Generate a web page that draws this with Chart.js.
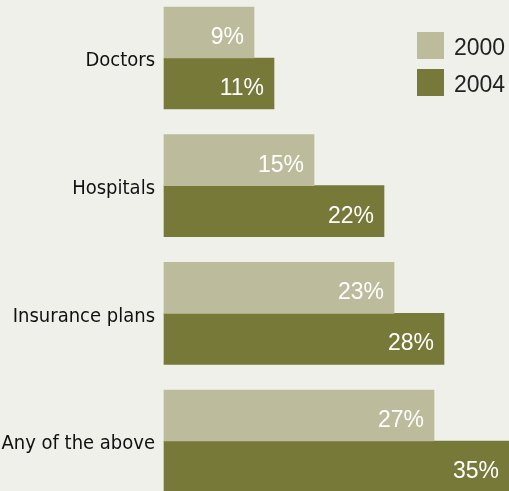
<!DOCTYPE html>
<html>
<head>
<meta charset="utf-8">
<script src="https://cdn.jsdelivr.net/npm/chart.js@4/dist/chart.umd.min.js"></script>
<style>
  html, body { margin: 0; padding: 0; background: #f0f0eb; }
  #wrap { width: 509px; height: 491px; position: relative; }
</style>
</head>
<body>
<div id="wrap"><canvas id="barChart"></canvas></div>
<script>
// data
const categories = ['Doctors', 'Hospitals', 'Insurance plans', 'Any of the above'];
const years = ['2000', '2004'];
const values2000 = [9, 15, 23, 27];
const values2004 = [11, 22, 28, 35];
const colors = ['#bcbc9c', '#777939'];

// white % labels at the end of each bar
const valueLabels = {
  id: 'valueLabels',
  afterDatasetsDraw(chart) {
    const ctx = chart.ctx;
    ctx.save();
    ctx.fillStyle = '#ffffff';
    ctx.font = '23px "Liberation Sans", Arial, sans-serif';
    ctx.textAlign = 'right';
    ctx.textBaseline = 'alphabetic';
    chart.data.datasets.forEach((ds, i) => {
      chart.getDatasetMeta(i).data.forEach((bar, j) => {
        const x = Math.min(bar.x, chart.width) - 10;
        ctx.fillText(ds.data[j] + '%', x, bar.y + 11.5);
      });
    });
    ctx.restore();
  }
};

// legend in the top-right corner
const cornerLegend = {
  id: 'cornerLegend',
  afterDraw(chart) {
    const ctx = chart.ctx;
    ctx.save();
    ctx.font = '23px "Liberation Sans", Arial, sans-serif';
    ctx.textBaseline = 'alphabetic';
    chart.data.datasets.forEach((ds, i) => {
      const y = 32 + i * 37;
      ctx.fillStyle = ds.backgroundColor;
      ctx.fillRect(417, y, 27, 27);
      ctx.fillStyle = '#222222';
      ctx.fillText(ds.label, 454, y + 23);
    });
    ctx.restore();
  }
};

new Chart(document.getElementById('barChart'), {
  type: 'bar',
  data: {
    labels: categories,
    datasets: [
      { label: years[0], data: values2000, backgroundColor: colors[0] },
      { label: years[1], data: values2004, backgroundColor: colors[1] }
    ]
  },
  options: {
    indexAxis: 'y',
    responsive: true,
    maintainAspectRatio: false,
    animation: false,
    clip: false,
    barThickness: 51,
    layout: { padding: { top: 58, bottom: 50, left: 0, right: 0 } },
    plugins: { legend: { display: false }, tooltip: { enabled: false } },
    scales: {
      x: { display: false, min: 0, max: 34.5 },
      y: {
        offset: false,
        border: { display: false },
        grid: { display: false, drawTicks: false },
        ticks: {
          color: '#111111',
          padding: 9,
          labelOffset: 3,
          font: { family: '"DejaVu Sans Condensed", sans-serif', size: 20 }
        },
        afterFit(scale) { scale.width = 164; }
      }
    }
  },
  plugins: [valueLabels, cornerLegend]
});
</script>
</body>
</html>
